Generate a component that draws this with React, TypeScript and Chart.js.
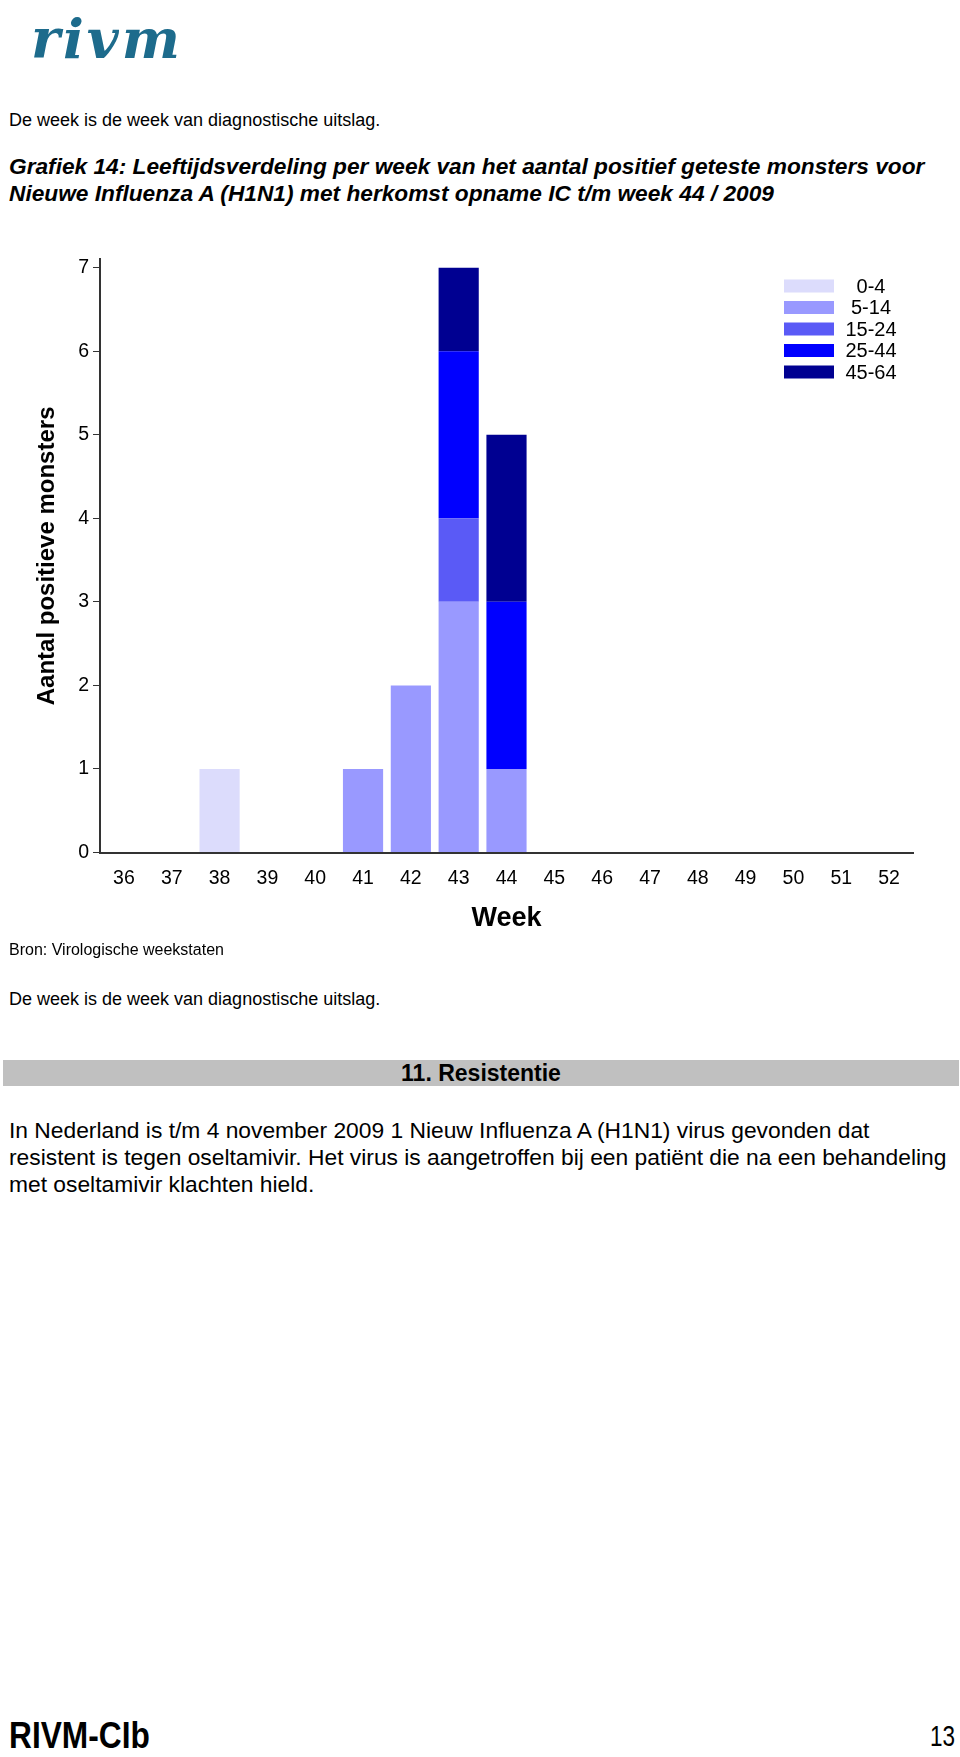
import React, { useEffect, useRef } from "react";
import { Chart, registerables } from "chart.js";

Chart.register(...registerables);

const weeks = ["36", "37", "38", "39", "40", "41", "42", "43", "44", "45", "46", "47", "48", "49", "50", "51", "52"];
const ageGroups = ["0-4", "5-14", "15-24", "25-44", "45-64"];
const groupColors = ["#dcdcfc", "#9999ff", "#5a5af6", "#0000ff", "#000091"];
const age0to4 = [0, 0, 1, 0, 0, 0, 0, 0, 0, 0, 0, 0, 0, 0, 0, 0, 0];
const age5to14 = [0, 0, 0, 0, 0, 1, 2, 3, 1, 0, 0, 0, 0, 0, 0, 0, 0];
const age15to24 = [0, 0, 0, 0, 0, 0, 0, 1, 0, 0, 0, 0, 0, 0, 0, 0, 0];
const age25to44 = [0, 0, 0, 0, 0, 0, 0, 2, 2, 0, 0, 0, 0, 0, 0, 0, 0];
const age45to64 = [0, 0, 0, 0, 0, 0, 0, 1, 2, 0, 0, 0, 0, 0, 0, 0, 0];
const seriesValues = [age0to4, age5to14, age15to24, age25to44, age45to64];
const yTickValues = [0, 1, 2, 3, 4, 5, 6, 7];

const SANS = '"Liberation Sans", Arial, Helvetica, sans-serif';

const legendPlugin = {
  id: "ageLegend",
  afterDraw(chart: any) {
    const ctx = chart.ctx;
    ctx.save();
    chart.data.datasets.forEach((ds: any, i: number) => {
      const yc = 56 + i * 21.5;
      ctx.fillStyle = ds.backgroundColor;
      ctx.fillRect(784, yc - 6.5, 50, 13);
      ctx.fillStyle = "#000";
      ctx.font = `20px ${SANS}`;
      ctx.textAlign = "center";
      ctx.textBaseline = "middle";
      ctx.fillText(ds.label, 871, yc + 1);
    });
    ctx.restore();
  },
};

function AgeChart() {
  const ref = useRef<HTMLCanvasElement | null>(null);
  useEffect(() => {
    if (!ref.current) return;
    const chart = new Chart(ref.current, {
      type: "bar",
      data: {
        labels: weeks,
        datasets: ageGroups.map((g, i) => ({
          label: g,
          data: seriesValues[i],
          backgroundColor: groupColors[i],
          borderWidth: 0,
          barPercentage: 0.84,
          categoryPercentage: 1,
        })),
      },
      options: {
        animation: false,
        responsive: false,
        devicePixelRatio: 1,
        layout: { padding: { top: 29.3, right: 47, left: 0, bottom: 0 } },
        plugins: { legend: { display: false }, tooltip: { enabled: false } },
        scales: {
          x: {
            stacked: true,
            grid: { display: false, drawTicks: false },
            border: { display: true, color: "#333", width: 2 },
            ticks: { color: "#000", font: { size: 19.5, family: SANS }, padding: 14, maxRotation: 0, autoSkip: false },
            title: {
              display: true,
              text: "Week",
              color: "#000",
              font: { size: 27, weight: "bold", family: SANS },
              padding: { top: 0, bottom: 15.3 },
            },
            afterFit: (s: any) => {
              s.height = 97.5;
            },
          },
          y: {
            stacked: true,
            min: 0,
            max: 7.1,
            afterBuildTicks: (s: any) => {
              s.ticks = yTickValues.map((v) => ({ value: v }));
            },
            grid: { drawOnChartArea: false, drawTicks: true, tickLength: 7, color: "#333", lineWidth: 1 },
            border: { display: true, color: "#333", width: 2 },
            ticks: { color: "#000", font: { size: 19.5, family: SANS }, padding: 4 },
            title: {
              display: true,
              text: "Aantal positieve monsters",
              color: "#000",
              font: { size: 24, weight: "bold", family: SANS },
              padding: { top: 32.6, bottom: 0 },
            },
            afterFit: (s: any) => {
              s.width = 100;
            },
          },
        },
      },
      plugins: [legendPlugin],
    } as any);
    return () => chart.destroy();
  }, []);
  return (
    <canvas
      ref={ref}
      width={960}
      height={720}
      style={{ position: "absolute", left: 0, top: 230, width: 960, height: 720 }}
    />
  );
}

const abs = (top: number, left: number, extra: any = {}) => ({
  position: "absolute" as const,
  top,
  left,
  fontFamily: SANS,
  color: "#000",
  whiteSpace: "pre" as const,
  ...extra,
});

export default function App() {
  return (
    <div style={{ position: "absolute", left: 0, top: 0, width: 960, height: 1757, overflow: "hidden", background: "#fff" }}>
      <div
        style={abs(11, 31, {
          fontFamily: '"DejaVu Serif", serif',
          fontWeight: "bold",
          fontStyle: "italic",
          fontSize: 55,
          lineHeight: "55px",
          color: "#1d6b8c",
          letterSpacing: 3,
        })}
      >
        rivm
      </div>
      <div style={abs(110, 9, { fontSize: 18, lineHeight: "21px" })}>De week is de week van diagnostische uitslag.</div>
      <div style={abs(152.6, 9, { fontSize: 22.7, lineHeight: "27px", fontWeight: "bold", fontStyle: "italic" })}>
        {"Grafiek 14: Leeftijdsverdeling per week van het aantal positief geteste monsters voor\nNieuwe Influenza A (H1N1) met herkomst opname IC t/m week 44 / 2009"}
      </div>
      <AgeChart />
      <div style={abs(940, 9, { fontSize: 16, lineHeight: "19px" })}>Bron: Virologische weekstaten</div>
      <div style={abs(989, 9, { fontSize: 18, lineHeight: "21px" })}>De week is de week van diagnostische uitslag.</div>
      <div
        style={abs(1060, 3, {
          width: 956,
          height: 26,
          background: "#c0c0c0",
          fontSize: 23,
          lineHeight: "26px",
          fontWeight: "bold",
          textAlign: "center",
        })}
      >
        11. Resistentie
      </div>
      <div style={abs(1116.6, 9, { fontSize: 22.8, lineHeight: "27px" })}>
        {"In Nederland is t/m 4 november 2009 1 Nieuw Influenza A (H1N1) virus gevonden dat\nresistent is tegen oseltamivir. Het virus is aangetroffen bij een patiënt die na een behandeling\nmet oseltamivir klachten hield."}
      </div>
      <div
        style={abs(1716, 9, {
          fontSize: 36,
          lineHeight: "40px",
          fontWeight: "bold",
          transform: "scaleX(0.88)",
          transformOrigin: "left top",
        })}
      >
        RIVM-CIb
      </div>
      <div
        style={abs(1720, 930, {
          fontSize: 30,
          lineHeight: "32px",
          transform: "scaleX(0.75)",
          transformOrigin: "left top",
        })}
      >
        13
      </div>
    </div>
  );
}
